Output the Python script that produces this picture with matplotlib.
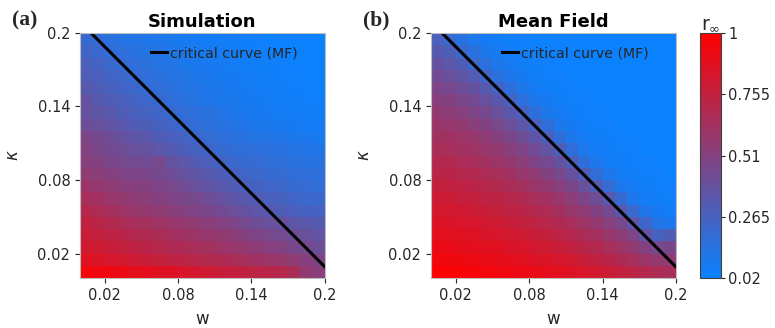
import numpy as np
import matplotlib
matplotlib.use("Agg")
import matplotlib.pyplot as plt
from matplotlib.colors import LinearSegmentedColormap

plt.rcParams["font.family"] = ["DejaVu Sans"]
plt.rcParams["mathtext.fontset"] = "dejavusans"

# parameter grid (cell upper edges)
w_vals = [0.01, 0.02, 0.03, 0.04, 0.05, 0.06, 0.07, 0.08, 0.09, 0.10,
          0.11, 0.12, 0.13, 0.14, 0.15, 0.16, 0.17, 0.18, 0.19, 0.20]
kappa_vals = [0.01, 0.02, 0.03, 0.04, 0.05, 0.06, 0.07, 0.08, 0.09, 0.10,
              0.11, 0.12, 0.13, 0.14, 0.15, 0.16, 0.17, 0.18, 0.19, 0.20]

# r_inf, rows from top (kappa = 0.2) to bottom (kappa = 0.01)
sim_rows = [
    [.20, .18, .15, .13, .12, .11, .10, .09, .08, .07, .06, .05, .05, .04, .04, .03, .03, .03, .02, .02],
    [.24, .21, .18, .16, .14, .13, .12, .10, .09, .08, .07, .06, .05, .05, .04, .04, .03, .03, .03, .02],
    [.28, .25, .21, .19, .17, .15, .13, .12, .10, .09, .08, .07, .06, .05, .05, .04, .04, .03, .03, .03],
    [.30, .28, .24, .22, .19, .17, .15, .13, .12, .10, .09, .08, .07, .06, .05, .05, .04, .04, .03, .03],
    [.33, .30, .27, .24, .22, .19, .17, .15, .13, .12, .10, .09, .08, .07, .06, .05, .05, .04, .04, .03],
    [.38, .33, .30, .28, .25, .22, .20, .17, .15, .13, .11, .10, .09, .08, .07, .06, .05, .05, .04, .04],
    [.38, .36, .34, .30, .28, .25, .23, .20, .18, .16, .14, .12, .10, .09, .08, .07, .06, .06, .05, .05],
    [.42, .40, .37, .34, .31, .29, .26, .24, .21, .18, .16, .14, .12, .11, .10, .09, .08, .07, .06, .06],
    [.48, .45, .42, .38, .36, .34, .30, .28, .25, .22, .19, .17, .15, .14, .13, .12, .11, .10, .09, .08],
    [.50, .47, .44, .42, .40, .38, .35, .32, .29, .26, .23, .20, .18, .17, .16, .15, .14, .13, .12, .11],
    [.52, .50, .47, .45, .44, .43, .45, .38, .35, .31, .28, .25, .22, .20, .19, .18, .16, .15, .14, .14],
    [.55, .53, .51, .49, .48, .47, .45, .42, .39, .36, .33, .30, .27, .24, .22, .20, .19, .18, .17, .16],
    [.60, .57, .55, .53, .52, .50, .48, .46, .43, .40, .37, .34, .31, .28, .26, .24, .22, .20, .19, .18],
    [.65, .62, .59, .57, .55, .53, .51, .49, .47, .45, .42, .39, .36, .33, .30, .28, .26, .24, .22, .21],
    [.70, .67, .64, .61, .59, .57, .55, .53, .51, .49, .47, .44, .41, .38, .35, .32, .30, .28, .26, .25],
    [.75, .72, .69, .67, .65, .63, .61, .59, .57, .55, .53, .51, .48, .45, .42, .40, .38, .36, .34, .32],
    [.78, .76, .74, .72, .70, .68, .66, .64, .62, .60, .58, .56, .54, .51, .48, .46, .44, .42, .40, .37],
    [.82, .80, .78, .76, .74, .72, .70, .68, .67, .65, .63, .61, .59, .57, .54, .52, .50, .47, .45, .42],
    [.87, .85, .83, .82, .80, .78, .76, .74, .73, .71, .69, .68, .66, .64, .62, .60, .58, .55, .52, .48],
    [.95, .94, .93, .92, .90, .89, .87, .86, .84, .82, .80, .78, .76, .75, .73, .72, .70, .66, .56, .52],
]

mf_rows = [
    [.28, .20, .14, .10, .07, .05, .04, .04, .03, .03, .03, .03, .02, .02, .02, .02, .02, .02, .02, .02],
    [.33, .29, .21, .15, .10, .07, .05, .04, .04, .03, .03, .03, .03, .02, .02, .02, .02, .02, .02, .02],
    [.38, .35, .30, .22, .15, .10, .07, .05, .04, .04, .03, .03, .03, .03, .02, .02, .02, .02, .02, .02],
    [.43, .40, .36, .31, .23, .15, .10, .07, .05, .04, .04, .03, .03, .03, .03, .02, .02, .02, .02, .02],
    [.48, .45, .42, .38, .32, .24, .16, .10, .07, .05, .04, .04, .03, .03, .03, .03, .02, .02, .02, .02],
    [.52, .50, .47, .44, .39, .33, .25, .16, .10, .07, .05, .04, .04, .03, .03, .03, .03, .02, .02, .02],
    [.56, .54, .52, .49, .45, .40, .34, .26, .17, .10, .07, .05, .04, .04, .03, .03, .03, .03, .02, .02],
    [.60, .58, .56, .53, .50, .46, .41, .35, .27, .17, .10, .07, .05, .04, .04, .03, .03, .03, .03, .02],
    [.63, .62, .60, .58, .55, .51, .47, .42, .36, .28, .17, .10, .06, .05, .04, .04, .03, .03, .03, .03],
    [.66, .65, .63, .61, .59, .56, .52, .48, .43, .37, .29, .17, .10, .06, .05, .04, .04, .03, .03, .03],
    [.70, .69, .67, .65, .63, .60, .57, .53, .49, .44, .38, .29, .17, .10, .06, .05, .04, .04, .03, .03],
    [.73, .72, .70, .69, .67, .65, .62, .58, .55, .50, .45, .39, .30, .18, .10, .06, .05, .04, .04, .03],
    [.76, .75, .74, .72, .71, .69, .66, .63, .60, .56, .52, .47, .40, .31, .19, .10, .06, .05, .04, .04],
    [.80, .79, .77, .76, .74, .73, .71, .68, .65, .62, .58, .53, .48, .42, .32, .20, .10, .06, .05, .04],
    [.83, .82, .81, .79, .78, .76, .74, .72, .70, .67, .63, .59, .55, .50, .44, .33, .21, .11, .07, .05],
    [.86, .85, .84, .83, .81, .80, .78, .76, .74, .71, .68, .65, .61, .57, .52, .46, .35, .23, .13, .09],
    [.89, .88, .87, .86, .85, .83, .82, .80, .78, .76, .73, .70, .67, .63, .59, .54, .48, .36, .26, .30],
    [.92, .91, .90, .89, .88, .87, .85, .84, .82, .80, .78, .75, .72, .69, .65, .61, .56, .50, .45, .47],
    [.95, .94, .93, .92, .91, .90, .89, .88, .86, .85, .83, .81, .78, .75, .72, .68, .64, .60, .56, .55],
    [.99, .98, .97, .96, .95, .94, .93, .92, .91, .89, .88, .86, .84, .82, .79, .76, .73, .70, .67, .65],
]

# mean-field critical curve end points
crit_w = [0.009, 0.200]
crit_kappa = [0.200, 0.009]

panel_titles = ["Simulation", "Mean Field"]
panel_tags = ["(a)", "(b)"]
tick_vals = [0.02, 0.08, 0.14, 0.2]
tick_labels = ["0.02", "0.08", "0.14", "0.2"]
cbar_ticks = [0.02, 0.265, 0.51, 0.755, 1.0]
cbar_labels = ["0.02", "0.265", "0.51", "0.755", "1"]

cmap = LinearSegmentedColormap.from_list("br", ["#0a82ff", "#ff0000"])
txt = "#262626"

fig = plt.figure(figsize=(7.75, 3.28), dpi=100)
W, H = 775.0, 328.0
axes_px = [(80, 33, 245, 245), (431, 33, 245, 245)]

w_edges = np.array([0.0] + w_vals)
k_edges = np.array([0.0] + kappa_vals)

mesh = None
for idx, data in enumerate([sim_rows, mf_rows]):
    x0, y0, aw, ah = axes_px[idx]
    ax = fig.add_axes([x0 / W, 1 - (y0 + ah) / H, aw / W, ah / H])
    Z = np.array(data)[::-1]  # bottom row first
    mesh = ax.pcolormesh(w_edges, k_edges, Z, cmap=cmap, vmin=0.02, vmax=1.0,
                         shading="flat", antialiased=False, edgecolors="none")
    ax.plot(crit_w, crit_kappa, color="black", lw=2.2, label="critical curve (MF)")
    ax.set_xlim(0, 0.2)
    ax.set_ylim(0, 0.2)
    ax.set_xticks(tick_vals)
    ax.set_xticklabels(tick_labels)
    ax.set_yticks(tick_vals)
    ax.set_yticklabels(tick_labels)
    ax.tick_params(direction="out", length=3.5, width=0.8, colors=txt,
                   labelsize=10.5, pad=3.5)
    for s in ax.spines.values():
        s.set_color("#bdbdbd")
        s.set_linewidth(0.8)
    ax.set_xlabel("w", fontsize=12, color=txt, labelpad=5)
    ax.set_ylabel(r"$\kappa$", fontsize=12, color=txt, labelpad=11)
    ax.set_title(panel_titles[idx], fontsize=13, fontweight="bold",
                 color="black", pad=4)
    leg = ax.legend(loc="center left", frameon=False, fontsize=10.2,
                    handlelength=1.15, handletextpad=0.2,
                    bbox_to_anchor=(0.29, 0.918), borderaxespad=0.0,
                    borderpad=0.0)
    for t in leg.get_texts():
        t.set_color(txt)
    fig.text((x0 - 68) / W, 1 - 20 / H, panel_tags[idx], fontsize=15.5,
             fontweight="bold", family="Liberation Serif", ha="left",
             va="center", color=txt)

cax = fig.add_axes([700 / W, 1 - 278 / H, 21 / W, 245 / H])
cb = fig.colorbar(mesh, cax=cax, ticks=cbar_ticks)
cb.ax.set_yticklabels(cbar_labels)
cb.ax.tick_params(direction="out", length=3, width=0.8, colors=txt,
                  labelsize=10.5, pad=2)
cb.outline.set_edgecolor("#404040")
cb.outline.set_linewidth(0.8)
cax.set_title(r"$\mathregular{r_{\infty}}$", fontsize=13.5, color=txt, pad=2)

fig.savefig("out.png", dpi=100)
